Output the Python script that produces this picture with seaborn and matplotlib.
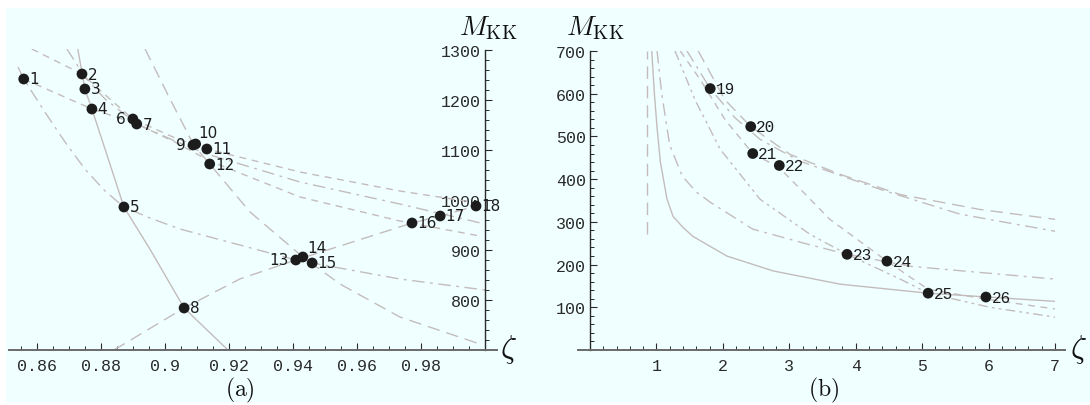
import matplotlib
matplotlib.use("Agg")
import matplotlib.pyplot as plt
from matplotlib.patches import Rectangle
from matplotlib.ticker import MultipleLocator, FixedLocator, FixedFormatter
import seaborn as sns
import pandas as pd

plt.rcParams['mathtext.fontset'] = 'cm'

# ---------------- data: panel (a) ----------------
a_labels = ["1", "2", "3", "4", "5", "6", "7", "8", "9", "10", "11", "12",
            "13", "14", "15", "16", "17", "18"]
a_zeta = [0.8559, 0.8741, 0.8750, 0.8772, 0.8872, 0.8900, 0.8912, 0.9060,
          0.9088, 0.9096, 0.9131, 0.9140, 0.9409, 0.9431, 0.9460, 0.9772,
          0.9860, 0.9972]
a_mkk = [1242, 1252, 1222, 1182, 986, 1162, 1152, 784,
         1110, 1112, 1102, 1072, 880, 886, 874, 954,
         968, 988]

# curves of panel (a): zeta, M
a_c1_z = [0.8728, 0.8750, 0.8772, 0.8813, 0.8872, 0.8953, 0.9060, 0.9197]
a_c1_m = [1302, 1222, 1182, 1102, 986, 902, 784, 700]
a_c2_z = [0.8541, 0.8559, 0.8625, 0.8688, 0.8750, 0.8813, 0.8872, 0.8953,
          0.9047, 0.9409, 0.9734, 1.0]
a_c2_m = [1266, 1242, 1176, 1116, 1062, 1018, 986, 964,
          942, 880, 842, 820]
a_c3_z = [0.8559, 0.8772, 0.8913, 0.9031, 0.9140, 0.9422, 0.9734, 0.9984]
a_c3_m = [1242, 1182, 1152, 1116, 1078, 1006, 958, 928]
a_c4_z = [0.8584, 0.8741, 0.8828, 0.8900, 0.9025, 0.9131, 0.9422, 0.9734, 1.0]
a_c4_m = [1302, 1252, 1202, 1162, 1126, 1102, 1056, 1018, 992]
a_c5_z = [0.8694, 0.8750, 0.8813, 0.8913, 0.9031, 0.9131, 0.9422, 0.9734, 1.0]
a_c5_m = [1302, 1246, 1202, 1152, 1118, 1092, 1036, 992, 952]
a_c6_z = [0.8938, 0.9016, 0.9090, 0.9153, 0.9266, 0.9431, 0.9547, 0.9734, 0.9984]
a_c6_m = [1302, 1202, 1110, 1062, 976, 886, 832, 766, 712]
a_c7_z = [0.8841, 0.9060, 0.9234, 0.9409, 0.9547, 0.9772, 0.9860, 0.9972]
a_c7_m = [700, 784, 842, 880, 908, 954, 968, 988]

# ---------------- data: panel (b) ----------------
b_labels = ["19", "20", "21", "22", "23", "24", "25", "26"]
b_zeta = [1.81, 2.42, 2.45, 2.85, 3.87, 4.47, 5.09, 5.96]
b_mkk = [612, 523, 460, 432, 224, 208, 133, 124]

b_c0_z = [0.86, 0.86]
b_c0_m = [271, 700]
b_c1_z = [0.93, 0.97, 1.01, 1.06, 1.16, 1.25, 1.40, 1.55, 2.06, 2.76, 3.77,
          5.09, 6.99]
b_c1_m = [700, 600, 520, 440, 353, 313, 287, 266, 220, 185, 154,
          133, 114]
b_c2_z = [1.01, 1.08, 1.20, 1.39, 1.60, 1.81, 2.45, 3.27, 3.87, 4.82, 7.0]
b_c2_m = [700, 600, 480, 407, 370, 346, 283, 248, 224, 196, 166]
b_c3_z = [1.63, 2.03, 2.42, 3.01, 3.77, 4.67, 5.87, 7.0]
b_c3_m = [700, 586, 523, 458, 411, 364, 329, 306]
b_c4_z = [1.46, 1.81, 2.18, 2.56, 3.16, 4.37, 5.57, 7.0]
b_c4_m = [700, 612, 544, 493, 442, 376, 318, 278]
b_c5_z = [1.36, 1.66, 2.03, 2.45, 2.85, 3.61, 4.47, 5.09, 5.96, 7.0]
b_c5_m = [700, 633, 540, 460, 427, 306, 208, 142, 119, 96]
b_c6_z = [1.28, 1.58, 1.96, 2.56, 3.31, 3.87, 4.67, 5.09, 6.02, 7.0]
b_c6_m = [700, 586, 470, 353, 271, 224, 166, 133, 100, 77]

# ---------------- styles ----------------
LINE_COL = "#c4bcbc"
BG = "#f0ffff"
SOLID = "-"
LDASH = (0, (9, 5))
DDOT = (0, (9, 4, 2, 4))
SDASH = (0, (5, 4))
DDDOT = (0, (7, 3, 2, 3, 2, 3))

a_curves = [(a_c1_z, a_c1_m, SOLID), (a_c2_z, a_c2_m, DDOT),
            (a_c3_z, a_c3_m, SDASH), (a_c4_z, a_c4_m, SDASH),
            (a_c5_z, a_c5_m, DDOT), (a_c6_z, a_c6_m, LDASH),
            (a_c7_z, a_c7_m, LDASH)]
b_curves = [(b_c0_z, b_c0_m, LDASH), (b_c1_z, b_c1_m, SOLID),
            (b_c2_z, b_c2_m, DDOT), (b_c3_z, b_c3_m, LDASH),
            (b_c4_z, b_c4_m, DDOT), (b_c5_z, b_c5_m, SDASH),
            (b_c6_z, b_c6_m, DDDOT)]

W, H = 1090, 406
fig = plt.figure(figsize=(W / 100, H / 100), dpi=100, facecolor="white")
fig.patches.append(Rectangle((6 / W, 1 - 403 / H), (W - 6) / W, (403 - 9) / H,
                             transform=fig.transFigure, facecolor=BG,
                             edgecolor="none", zorder=-5))

axA = fig.add_axes([9 / W, 1 - 351 / H, (497 - 9) / W, (351 - 50) / H])
axB = fig.add_axes([578 / W, 1 - 351 / H, (1065 - 578) / W, (351 - 52) / H])

for ax, curves in ((axA, a_curves), (axB, b_curves)):
    ax.set_facecolor("none")
    for z, m, ls in curves:
        df = pd.DataFrame({"zeta": z, "M": m})
        sns.lineplot(data=df, x="zeta", y="M", ax=ax, color=LINE_COL,
                     linestyle=ls, linewidth=1.0, sort=False,
                     estimator=None, zorder=2)

dfa = pd.DataFrame({"zeta": a_zeta, "M": a_mkk, "lab": a_labels})
dfb = pd.DataFrame({"zeta": b_zeta, "M": b_mkk, "lab": b_labels})
sns.scatterplot(data=dfa, x="zeta", y="M", ax=axA, color="#1c1c1c", s=60,
                edgecolor="none", zorder=5)
sns.scatterplot(data=dfb, x="zeta", y="M", ax=axB, color="#1c1c1c", s=60,
                edgecolor="none", zorder=5)

a_off = {"6": (-5, 0, "right"), "9": (-5, 0, "right"), "13": (-5, 0, "right"),
         "10": (2, 8, "left"), "14": (3, 7, "left")}
for _, r in dfa.iterrows():
    dx, dy, ha = a_off.get(r["lab"], (4, 0, "left"))
    axA.annotate(r["lab"], (r["zeta"], r["M"]), xytext=(dx, dy),
                 textcoords="offset points", ha=ha, va="center",
                 fontsize=11, color="#1c1c1c", family="DejaVu Sans", zorder=6)
for _, r in dfb.iterrows():
    axB.annotate(r["lab"], (r["zeta"], r["M"]), xytext=(4, 0),
                 textcoords="offset points", ha="left", va="center",
                 fontsize=11.5, color="#1c1c1c", family="Liberation Mono", zorder=6)

# ---------------- axes panel (a) ----------------
axA.set_xlim(0.8513, 1.00375)
axA.set_ylim(700, 1302)
axA.spines["left"].set_position(("data", 1.0))
axA.spines["left"].set_bounds(700, 1300)
for s in ("top", "right"):
    axA.spines[s].set_visible(False)
a_xt = [0.86, 0.88, 0.90, 0.92, 0.94, 0.96, 0.98]
a_xtl = ["0.86", "0.88", "0.9", "0.92", "0.94", "0.96", "0.98"]
axA.xaxis.set_major_locator(FixedLocator(a_xt))
axA.xaxis.set_major_formatter(FixedFormatter(a_xtl))
axA.xaxis.set_minor_locator(MultipleLocator(0.005))
a_yt = [800, 900, 1000, 1100, 1200, 1300]
axA.yaxis.set_major_locator(FixedLocator(a_yt))
axA.yaxis.set_major_formatter(FixedFormatter([str(v) for v in a_yt]))
axA.yaxis.set_minor_locator(MultipleLocator(20))

# ---------------- axes panel (b) ----------------
axB.set_xlim(-0.18, 7.15)
axB.set_ylim(0, 700)
axB.spines["left"].set_position(("data", 0.0))
axB.spines["left"].set_bounds(0, 700)
for s in ("top", "right"):
    axB.spines[s].set_visible(False)
b_xt = [1, 2, 3, 4, 5, 6, 7]
axB.xaxis.set_major_locator(FixedLocator(b_xt))
axB.xaxis.set_major_formatter(FixedFormatter([str(v) for v in b_xt]))
axB.xaxis.set_minor_locator(MultipleLocator(0.2))
b_yt = [100, 200, 300, 400, 500, 600, 700]
axB.yaxis.set_major_locator(FixedLocator(b_yt))
axB.yaxis.set_major_formatter(FixedFormatter([str(v) for v in b_yt]))
axB.yaxis.set_minor_locator(MultipleLocator(20))

for ax in (axA, axB):
    ax.set_xlabel("")
    ax.set_ylabel("")
    ax.spines["bottom"].set_color("#6a6a6a")
    ax.spines["bottom"].set_linewidth(1.4)
    ax.spines["left"].set_color("#2a2a2a")
    ax.spines["left"].set_linewidth(1.0)
    ax.tick_params(axis="both", which="major", direction="in", length=5,
                   width=0.8, colors="#2a2a2a", labelsize=12)
    ax.tick_params(axis="both", which="minor", direction="in", length=3,
                   width=0.7, colors="#2a2a2a")
    ax.tick_params(axis="x", pad=6)
    ax.tick_params(axis="y", pad=3)
    for t in ax.get_xticklabels() + ax.get_yticklabels():
        t.set_family("Liberation Mono")
        t.set_color("#2a2a2a")

# ---------------- labels ----------------
fig.text(488 / W, 1 - 28 / H, r"$M_{\mathrm{KK}}$", ha="center", va="center",
         fontsize=20, color="#111")
fig.text(595 / W, 1 - 28 / H, r"$M_{\mathrm{KK}}$", ha="center", va="center",
         fontsize=20, color="#111")
fig.text(509 / W, 1 - 350 / H, r"$\zeta$", ha="center", va="center",
         fontsize=23, color="#111")
fig.text(1079 / W, 1 - 350 / H, r"$\zeta$", ha="center", va="center",
         fontsize=23, color="#111")
fig.text(240 / W, 1 - 390 / H, r"$\mathrm{(a)}$", ha="center", va="center",
         fontsize=17, color="#111")
fig.text(824 / W, 1 - 390 / H, r"$\mathrm{(b)}$", ha="center", va="center",
         fontsize=17, color="#111")

fig.savefig("out.png", dpi=100, facecolor="white")
